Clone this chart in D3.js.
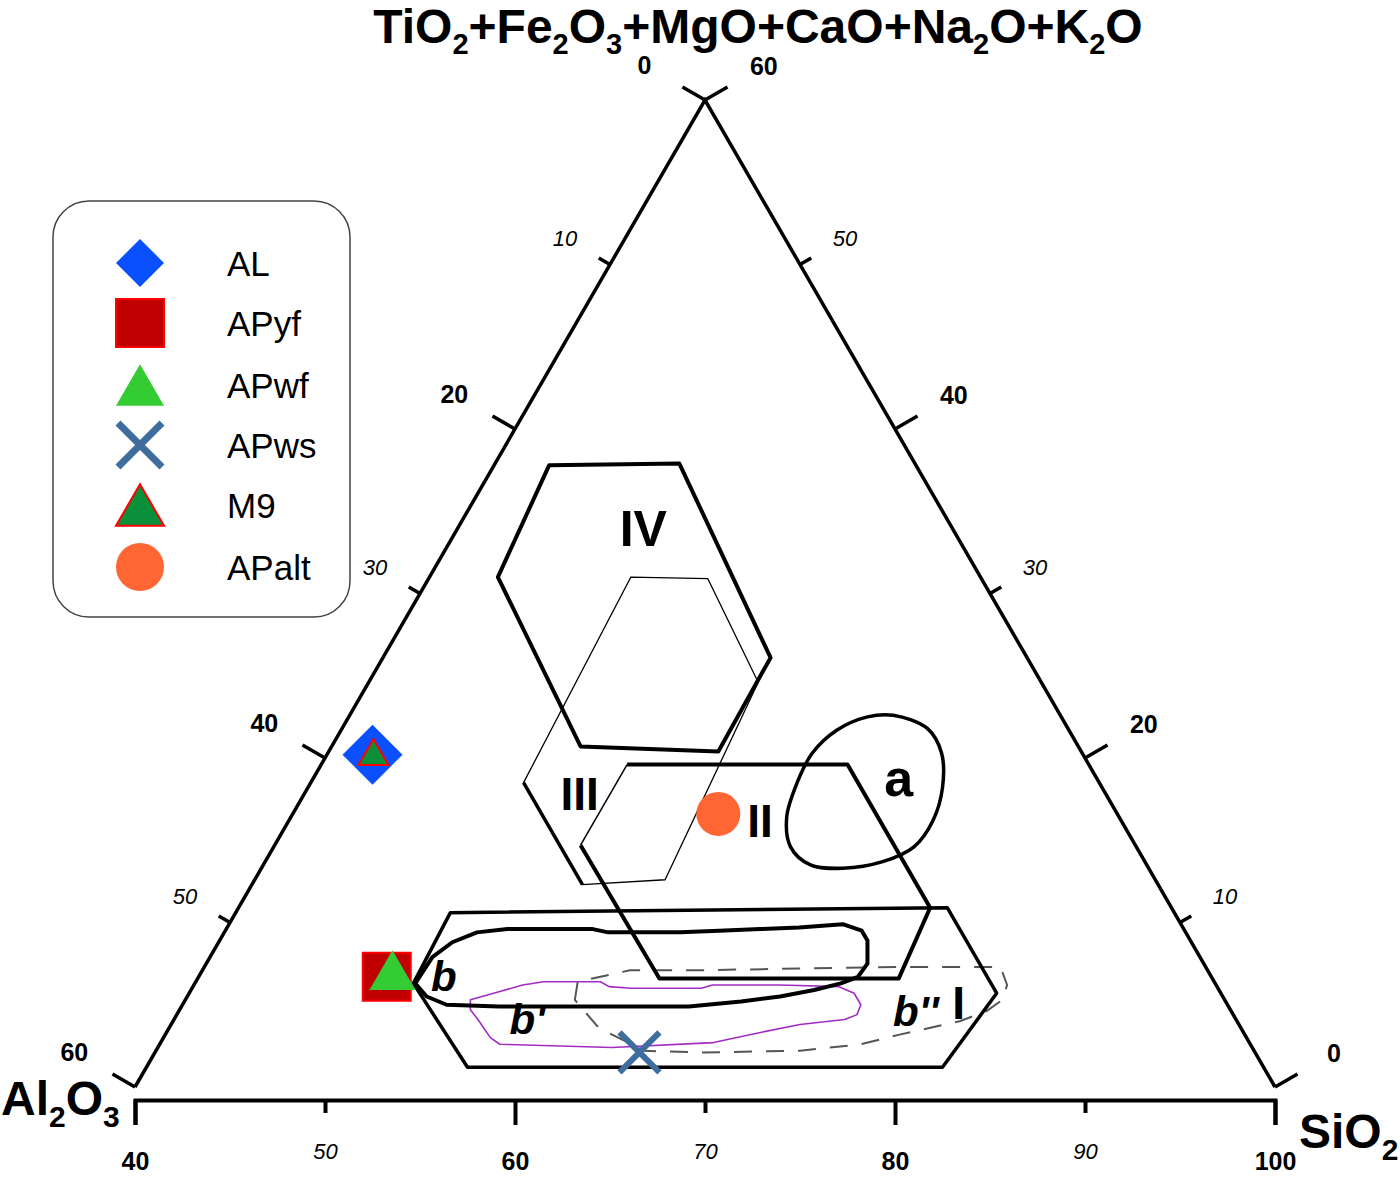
<!DOCTYPE html>
<html><head><meta charset="utf-8">
<script src="https://cdn.jsdelivr.net/npm/d3@7"></script>
<style>body{margin:0;background:#fff}svg{display:block}text{font-family:"Liberation Sans",Arial,sans-serif}</style>
</head><body><svg id="c" width="1400" height="1177"></svg>
<script>
// ---------------- DATA ----------------
// axis ticks
const sio2Ticks = [40, 50, 60, 70, 80, 90, 100];
const sio2Major = [40, 60, 80, 100];
const sideTicks = [0, 10, 20, 30, 40, 50, 60];
const sideMajor = [0, 20, 40, 60];
const titleTop = "TiO2+Fe2O3+MgO+CaO+Na2O+K2O";
const titleLeft = "Al2O3";
const titleRight = "SiO2";

// samples (wt% : SiO2, Al2O3, TiO2+Fe2O3+MgO+CaO+Na2O+K2O)
const sampleNames = ["AL", "APyf", "APwf", "APws", "M9", "APalt"];
const sampleSiO2  = [42.4, 49.9, 50.2, 65.5, 42.5, 62.4];
const sampleAl2O3 = [37.4, 43.4, 43.1, 32.4, 37.4, 21.0];
const sampleOther = [20.2, 6.7, 6.7, 2.1, 20.1, 16.6];

// fields, vertices as [SiO2, Other]; Al2O3 = 100 - SiO2 - Other
const fieldIV = [[42.9,37.8],[49.7,37.9],[60.4,26.1],[60.5,20.4],[53.1,20.7],[43.6,31.0]];
const fieldIII = [[50.6,31.0],[54.7,30.9],[60.5,24.6],[61.6,12.6],[57.4,12.3],[51.2,18.5]];
const fieldII = [[56.1,19.6],[67.7,19.6],[76.4,10.9],[76.9,6.6],[64.3,6.6],[56.1,14.7]];
const fieldI = [[51.3,10.6],[77.3,10.9],[82.5,5.7],[81.9,1.2],[56.9,1.2],[51.5,6.3]];
const fieldA = [[68.6,22.6],[70.8,21.8],[72.3,20.3],[73.4,18.2],[73.9,16.2],[73.7,14.6],[72.5,13.7],
  [70.6,13.3],[68.8,13.5],[67.2,14.6],[66.1,16.4],[65.6,18.5],[65.5,20.3],[66.1,21.7],[67.3,22.5]];
const fieldB = [[51.6,6.3],[51.7,7.9],[52.3,8.8],[53.3,9.4],[54.8,9.6],[59.3,9.6],[60.2,9.4],[64.0,9.4],
  [66.0,9.5],[68.1,9.6],[70.1,9.7],[72.3,9.9],[73.5,9.5],[74.1,8.9],[74.8,7.5],[74.7,6.7],[74.0,6.3],
  [72.8,5.9],[71.2,5.5],[69.3,5.2],[66.7,4.9],[62.0,4.9],[56.7,4.9],[53.9,5.0],[52.6,5.5]];
const fieldB1 = [[55.0,5.3],[56.3,5.8],[57.3,6.2],[58.3,6.4],[61.3,6.4],[61.9,6.1],[63.1,6.0],[66.8,6.0],
  [67.3,6.2],[70.8,6.2],[74.0,6.1],[75.0,5.7],[75.7,5.0],[75.8,4.4],[75.3,4.1],[73.1,3.8],[71.2,3.3],
  [69.1,2.7],[63.9,2.4],[57.9,2.6],[57.2,3.0],[56.0,4.1],[55.3,4.7]];
const fieldB2 = [[60.5,5.3],[60.1,6.4],[62.5,7.1],[66.2,7.1],[71.4,7.2],[76.6,7.3],[81.9,7.3],[82.8,6.2],
  [83.0,5.3],[82.5,4.6],[81.4,4.0],[78.7,3.2],[76.9,2.6],[73.9,2.2],[68.7,2.1],[65.7,2.2],[62.6,3.6]];
const fieldLabels = ["IV", "III", "II", "a", "b", "b'", "b''", "I"];
const fieldLabelSiO2 = [49.8, 54.5, 64.8, 70.8, 52.9, 58.6, 78.8, 80.8];
const fieldLabelOther = [33.9, 17.8, 16.2, 18.8, 6.7, 4.1, 4.6, 5.1];

// ---------------- SCALES ----------------
const svg = d3.select("#c");
svg.append("rect").attr("width", 1400).attr("height", 1177).attr("fill", "#fff");
const x = d3.scaleLinear().domain([40, 100]).range([135, 1275]);
const yO = d3.scaleLinear().domain([0, 60]).range([1087, 100]);
const proj = (s, o) => [x(s) + (x(40 + o) - x(40)) / 2, yO(o)];
const px = d => proj(d[0], d[1])[0], py = d => proj(d[0], d[1])[1];

function chem(sel, str, size, subSize, drop) {
  const parts = str.match(/\d+|\D+/g);
  let sub = false;
  parts.forEach(p => {
    const isNum = /^\d+$/.test(p);
    const t = sel.append("tspan").text(p).attr("font-size", isNum ? subSize : size);
    if (isNum && !sub) { t.attr("dy", drop); sub = true; }
    else if (!isNum && sub) { t.attr("dy", -drop); sub = false; }
  });
}

// ---------------- TRIANGLE EDGES ----------------
const apex = proj(40, 60), bl = proj(40, 0), br = proj(100, 0);
svg.append("path").attr("d", `M${bl}L${apex}L${br}`).attr("fill", "none")
  .attr("stroke", "#000").attr("stroke-width", 3.5).attr("stroke-linejoin", "miter");

// left edge ticks: Al2O3 value v -> S=40, O=60-v
const gL = svg.append("g");
sideTicks.forEach(v => {
  const p = proj(40, 60 - v), maj = sideMajor.includes(v);
  const L = maj ? 26 : 13, nx = -Math.sqrt(3) / 2, ny = -0.5;
  gL.append("line").attr("x1", p[0]).attr("y1", p[1]).attr("x2", p[0] + nx * L).attr("y2", p[1] + ny * L)
    .attr("stroke", "#000").attr("stroke-width", 3.5);
  const D = maj ? 70 : 52;
  gL.append("text").attr("x", p[0] + nx * D).attr("y", p[1] + ny * D)
    .attr("text-anchor", "middle").attr("dominant-baseline", "central")
    .attr("font-size", maj ? 25 : 22).attr("font-weight", maj ? "bold" : "normal")
    .attr("font-style", maj ? "normal" : "italic").text(v);
});
// right edge ticks: Other value v -> S=100-v, O=v
const gR = svg.append("g");
sideTicks.forEach(v => {
  const p = proj(100 - v, v), maj = sideMajor.includes(v);
  const L = maj ? 26 : 13, nx = Math.sqrt(3) / 2, ny = -0.5;
  gR.append("line").attr("x1", p[0]).attr("y1", p[1]).attr("x2", p[0] + nx * L).attr("y2", p[1] + ny * L)
    .attr("stroke", "#000").attr("stroke-width", 3.5);
  const D = maj ? 68 : 52;
  gR.append("text").attr("x", p[0] + nx * D).attr("y", p[1] + ny * D)
    .attr("text-anchor", "middle").attr("dominant-baseline", "central")
    .attr("font-size", maj ? 25 : 22).attr("font-weight", maj ? "bold" : "normal")
    .attr("font-style", maj ? "normal" : "italic").text(v);
});

// bottom axis
const ax = svg.append("g").attr("transform", "translate(0,1100)")
  .call(d3.axisBottom(x).tickValues(sio2Ticks).tickSize(25).tickSizeOuter(25).tickFormat(d3.format("d")));
ax.select(".domain").attr("stroke-width", 4).attr("stroke", "#000");
ax.selectAll(".tick line").attr("stroke-width", 4).attr("stroke", "#000")
  .attr("y2", d => sio2Major.includes(d) ? 25 : 13);
ax.selectAll(".tick text").attr("dy", null).attr("dominant-baseline", "central")
  .attr("y", d => sio2Major.includes(d) ? 61 : 51)
  .attr("font-family", '"Liberation Sans",Arial,sans-serif')
  .attr("font-size", d => sio2Major.includes(d) ? 25 : 22)
  .attr("font-weight", d => sio2Major.includes(d) ? "bold" : "normal")
  .attr("font-style", d => sio2Major.includes(d) ? "normal" : "italic")
  .attr("fill", "#000");

// axis titles
chem(svg.append("text").attr("x", 758).attr("y", 43).attr("text-anchor", "middle").attr("font-weight", "bold"), titleTop, 48, 29, 11);
chem(svg.append("text").attr("x", 1).attr("y", 1115).attr("font-weight", "bold"), titleLeft, 48, 30, 12);
chem(svg.append("text").attr("x", 1299).attr("y", 1148).attr("font-weight", "bold"), titleRight, 48, 30, 12);

// ---------------- FIELDS ----------------
const closed = d3.line().x(px).y(py).curve(d3.curveLinearClosed);
const open = d3.line().x(px).y(py);
const smooth = d3.line().x(px).y(py).curve(d3.curveCatmullRomClosed.alpha(0.5));
const gF = svg.append("g").attr("fill", "none").attr("stroke-linejoin", "round");

gF.append("path").attr("d", closed(fieldB2)).attr("stroke", "#555").attr("stroke-width", 2).attr("stroke-dasharray", "18 14");
gF.append("path").attr("d", closed(fieldB1)).attr("stroke", "#a32cc4").attr("stroke-width", 1.6);
gF.append("path").attr("d", closed(fieldB)).attr("stroke", "#000").attr("stroke-width", 4);
gF.append("path").attr("d", closed(fieldI)).attr("stroke", "#000").attr("stroke-width", 3.5);
gF.append("path").attr("d", closed(fieldIV)).attr("stroke", "#000").attr("stroke-width", 4);
gF.append("path").attr("d", closed(fieldIII)).attr("stroke", "#000").attr("stroke-width", 1.3);
gF.append("path").attr("d", open([fieldIII[5], fieldIII[4]])).attr("stroke", "#000").attr("stroke-width", 3.5);
gF.append("path").attr("d", open(fieldII)).attr("stroke", "#000").attr("stroke-width", 4);
gF.append("path").attr("d", open([fieldII[5], fieldII[0]])).attr("stroke", "#000").attr("stroke-width", 1.5);
gF.append("path").attr("d", smooth(fieldA)).attr("stroke", "#000").attr("stroke-width", 3.5);

fieldLabels.forEach((t, i) => {
  const p = proj(fieldLabelSiO2[i], fieldLabelOther[i]);
  const isB = t[0] === "b";
  svg.append("text").attr("x", p[0]).attr("y", p[1]).attr("text-anchor", "middle")
    .attr("dominant-baseline", "central").attr("font-weight", "bold")
    .attr("font-style", isB ? "italic" : "normal")
    .attr("font-size", t === "a" ? 52 : isB ? 42 : t === "IV" ? 50 : 46).text(t);
});

// ---------------- SYMBOLS ----------------
const sym = {
  AL:    {type: "diamond", fill: "#0a50ff", stroke: "none", chart: 1800, legend: 1152},
  APyf:  {type: "square", fill: "#c00000", stroke: "#ff0000", chart: 2304, legend: 2304},
  APwf:  {type: "triangle", fill: "#33cc33", stroke: "none", chart: 920, legend: 1000},
  APws:  {type: "x", fill: "none", stroke: "#3f6e9e", chart: 20, legend: 22},
  M9:    {type: "triangle", fill: "#0a8f3a", stroke: "#ff0000", chart: 390, legend: 1000},
  APalt: {type: "circle", fill: "#ff6633", stroke: "none", chart: 1520, legend: 1810}
};
function drawSym(g, name, cx, cy, which) {
  const s = sym[name], size = s[which];
  if (s.type === "x") {
    g.append("path").attr("d", `M${cx - size},${cy - size}L${cx + size},${cy + size}M${cx - size},${cy + size}L${cx + size},${cy - size}`)
      .attr("stroke", s.stroke).attr("stroke-width", which === "chart" ? 6 : 7).attr("fill", "none");
    return;
  }
  const t = {diamond: d3.symbolSquare, square: d3.symbolSquare, triangle: d3.symbolTriangle, circle: d3.symbolCircle}[s.type];
  let tr = `translate(${cx},${cy})`;
  if (s.type === "diamond") tr += " rotate(45)";
  g.append("path").attr("d", d3.symbol(t, size)()).attr("transform", tr)
    .attr("fill", s.fill).attr("stroke", s.stroke).attr("stroke-width", 2);
}
const gP = svg.append("g");
sampleNames.forEach((n, i) => {
  const p = proj(sampleSiO2[i], sampleOther[i]);
  drawSym(gP, n, p[0], p[1], "chart");
});

// ---------------- LEGEND ----------------
const gLeg = svg.append("g");
gLeg.append("rect").attr("x", 53).attr("y", 201).attr("width", 297).attr("height", 416).attr("rx", 36)
  .attr("fill", "#fff").attr("stroke", "#444").attr("stroke-width", 1.5);
const legRows = [263, 323, 385, 445, 505, 567];
sampleNames.forEach((n, i) => {
  const cy = legRows[i] + (sym[n].type === "triangle" ? 7 : 0);
  drawSym(gLeg, n, 140, cy, "legend");
  gLeg.append("text").attr("x", 227).attr("y", legRows[i]).attr("dominant-baseline", "central")
    .attr("font-size", 35).text(n);
});
</script></body></html>
